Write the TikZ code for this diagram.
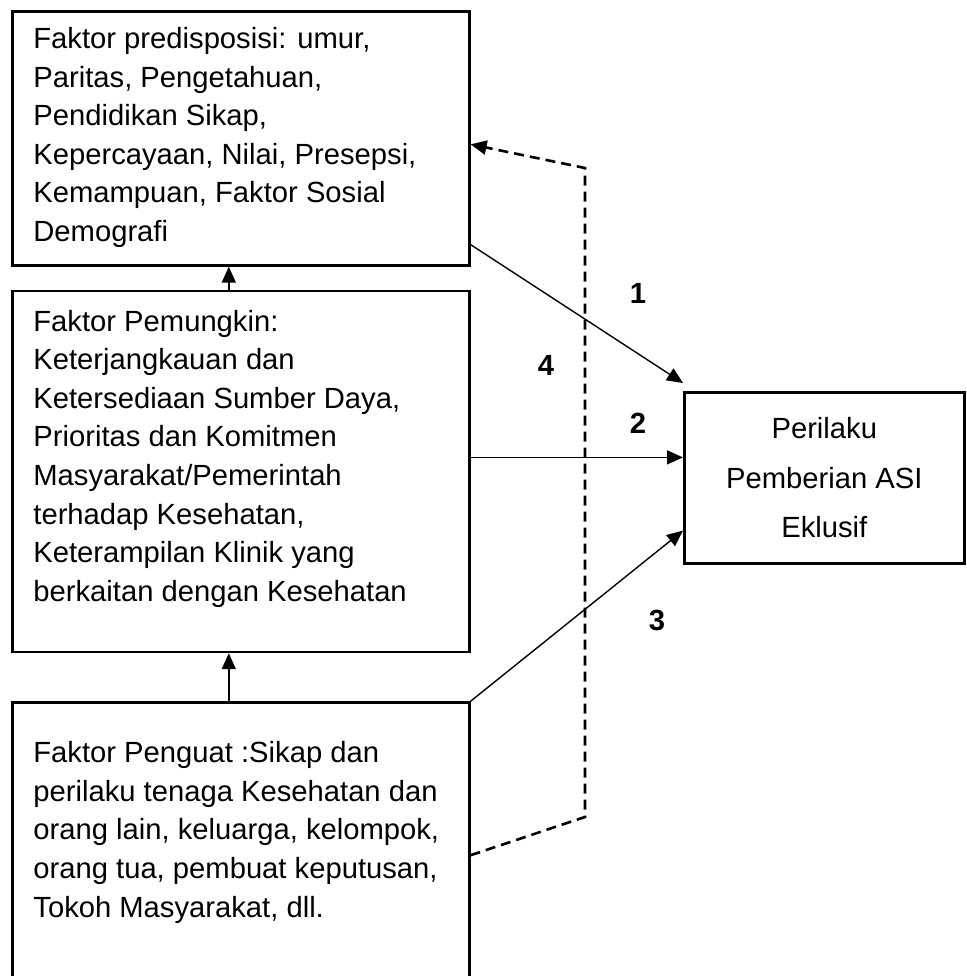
\documentclass[tikz,border=0pt]{standalone}
\usepackage{fontspec}
\setmainfont{Liberation Sans}
\usetikzlibrary{arrows.meta,positioning}

\begin{document}
\begin{tikzpicture}[
    x=0.5pt, y=-0.5pt,
    block/.style={rectangle, draw=black, line width=1.3pt, inner sep=0pt, anchor=north west, minimum width=228.5pt},
    txt/.style={inner sep=0pt, align=left, font=\fontsize{14.6pt}{19.3pt}\selectfont},
    num/.style={font=\fontsize{14.6pt}{17pt}\selectfont\bfseries},
    wire/.style={-{Triangle[length=8pt,width=7pt]}, line width=0.7pt},
    back/.style={-{Triangle[length=8pt,width=7pt]}, line width=1.3pt, dash pattern=on 5pt off 3pt}
]
    \clip (0,0) rectangle (966,976);

    % Left column: the three factors
    \node [block, minimum height=127pt] (predisposisi) at (11,10) {};
    \node [block, minimum height=180.5pt, below=11.5pt of predisposisi.south west, anchor=north west] (pemungkin) {};
    \node [block, minimum height=155pt, below=24pt of pemungkin.south west, anchor=north west] (penguat) {};

    \node [txt, below right=8.5pt and 11pt of predisposisi.north west] (predisposisi_txt) {Faktor predisposisi: umur,\\Paritas, Pengetahuan,\\Pendidikan Sikap,\\Kepercayaan, Nilai, Presepsi,\\Kemampuan, Faktor Sosial\\Demografi};
    \node [txt, below right=10pt and 11pt of pemungkin.north west] (pemungkin_txt) {Faktor Pemungkin:\\Keterjangkauan dan\\Ketersediaan Sumber Daya,\\Prioritas dan Komitmen\\Masyarakat/Pemerintah\\terhadap Kesehatan,\\Keterampilan Klinik yang\\berkaitan dengan Kesehatan};
    \node [txt, below right=20pt and 11pt of penguat.north west] (penguat_txt) {Faktor Penguat :Sikap dan\\perilaku tenaga Kesehatan dan\\orang lain, keluarga, kelompok,\\orang tua, pembuat keputusan,\\Tokoh Masyarakat, dll.};

    % Right: the behaviour
    \node [block, minimum width=140pt, minimum height=85.5pt, align=center, font=\fontsize{14.6pt}{24.8pt}\selectfont] (perilaku) at (683,391) {Perilaku\\Pemberian ASI\\Eklusif};

    % Numbers
    \node [num] (n1) at (638,293) {1};
    \node [num] (n2) at (638,423) {2};
    \node [num] (n3) at (657,620) {3};
    \node [num] (n4) at (546,365) {4};

    % Arrows up the left column
    \draw [wire] ([xshift=-6pt]pemungkin.north) -- ([xshift=-6pt]predisposisi.south);
    \draw [wire] ([xshift=-6pt]penguat.north) -- ([xshift=-6pt]pemungkin.south);

    % Arrows to the behaviour
    \draw [wire] ([yshift=11pt]predisposisi.south east) -- ([yshift=4pt]perilaku.north west);
    \draw [wire] ([yshift=7pt]pemungkin.east) -- ([yshift=7pt]pemungkin.east -| perilaku.west);
    \draw [wire] (penguat.north east) -- ([yshift=17pt]perilaku.south west);

    % Feedback (dashed)
    \coordinate (fb_top) at (585,168);
    \coordinate (fb_bot) at (585,817);
    \draw [back] ([yshift=-77pt]penguat.north east) -- (fb_bot) -- (fb_top) -- ([yshift=-3pt]predisposisi.east);
\end{tikzpicture}
\end{document}
